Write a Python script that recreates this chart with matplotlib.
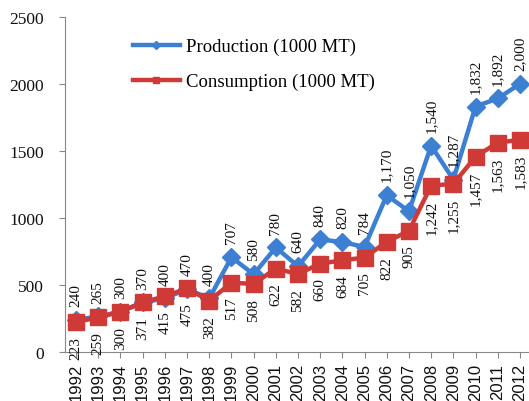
import matplotlib
matplotlib.use("Agg")
import matplotlib.pyplot as plt

years = [str(y) for y in range(1992, 2013)]
production = [240, 265, 300, 370, 400, 470, 400, 707, 580, 780, 640, 840, 820, 784, 1170, 1050, 1540, 1287, 1832, 1892, 2000]
consumption = [223, 259, 300, 371, 415, 475, 382, 517, 508, 622, 582, 660, 684, 705, 822, 905, 1242, 1255, 1457, 1563, 1583]
yticks = [0, 500, 1000, 1500, 2000, 2500]

blue = "#3C7FD3"
red = "#CF3A36"

fig = plt.figure(figsize=(5.29, 4.02), dpi=100)
ax = fig.add_axes([65/529, 1-353/402, 466/529, (353-18)/402])

x = list(range(len(years)))
ax.plot(x, production, color=blue, lw=3.2, marker="D", ms=9, label="Production (1000 MT)", zorder=3)
ax.plot(x, consumption, color=red, lw=3.2, marker="s", ms=11, label="Consumption (1000 MT)", zorder=4)

def fmt(v):
    return f"{v:,}"

for i, v in enumerate(production):
    ax.annotate(fmt(v), (i, v), xytext=(0, 10), textcoords="offset points",
                rotation=90, ha="center", va="bottom", fontsize=11,
                family="Liberation Serif", color="#111111", zorder=5)
for i, v in enumerate(consumption):
    ax.annotate(fmt(v), (i, v), xytext=(0, -10), textcoords="offset points",
                rotation=90, ha="center", va="top", fontsize=11,
                family="Liberation Serif", color="#111111", zorder=5)

ax.set_xlim(-0.5, len(years) - 0.5)
ax.set_ylim(0, 2500)
ax.set_xticks(x)
ax.set_xticklabels(years, rotation=90, fontsize=12, family="Liberation Sans")
ax.set_yticks(yticks)
ax.set_yticklabels([str(t) for t in yticks], fontsize=12.5, family="Liberation Serif")
for s in ["top", "right"]:
    ax.spines[s].set_visible(False)
for s in ["left", "bottom"]:
    ax.spines[s].set_color("#888888")
ax.tick_params(axis="both", colors="#888888", labelcolor="#111111", length=4, direction="out")
ax.tick_params(axis="y", pad=11)
ax.tick_params(axis="x", pad=4)

leg = fig.legend(handles=ax.get_lines(), loc="upper left", bbox_to_anchor=(133/529, 1-39/402),
                 frameon=False, prop={"family": "Liberation Serif", "size": 13.5},
                 handlelength=2.5, labelspacing=0.95, handletextpad=0.3,
                 borderpad=0, borderaxespad=0, markerscale=0.45)

fig.savefig("out.png", dpi=100)
